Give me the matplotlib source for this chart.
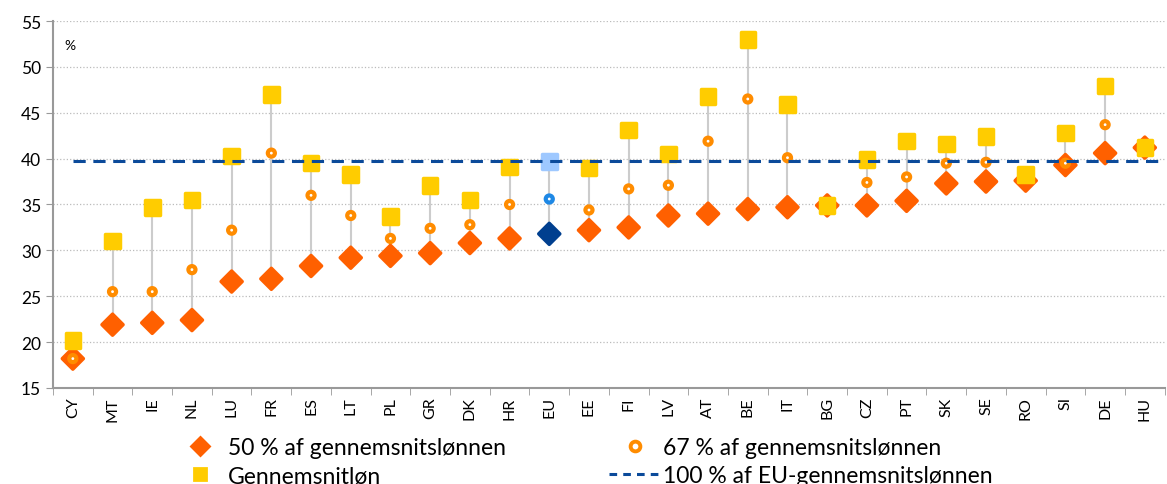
import numpy as np
import matplotlib.pyplot as plt
from matplotlib.lines import Line2D

countries = ['CY', 'MT', 'IE', 'NL', 'LU', 'FR', 'ES', 'LT', 'PL', 'GR', 'DK', 'HR', 'EU', 'EE',
             'FI', 'LV', 'AT', 'BE', 'IT', 'BG', 'CZ', 'PT', 'SK', 'SE', 'RO', 'SI', 'DE', 'HU']
pct50 = [18.2, 21.9, 22.1, 22.4, 26.6, 26.9, 28.3, 29.2, 29.4, 29.7, 30.8, 31.3, 31.8, 32.2,
         32.5, 33.8, 34.0, 34.5, 34.7, 34.9, 34.9, 35.4, 37.3, 37.5, 37.6, 39.3, 40.6, 41.2]
pct67 = [18.2, 25.5, 25.5, 27.9, 32.2, 40.6, 36.0, 33.8, 31.3, 32.4, 32.8, 35.0, 35.6, 34.4,
         36.7, 37.1, 41.9, 46.5, 40.1, 34.9, 37.4, 38.0, 39.5, 39.6, 37.9, 39.5, 43.7, 41.2]
average = [20.2, 31.0, 34.7, 35.5, 40.3, 47.0, 39.5, 38.3, 33.7, 37.1, 35.5, 39.1, 39.7, 39.0,
           43.1, 40.5, 46.8, 53.0, 45.9, 34.9, 39.9, 41.9, 41.6, 42.4, 38.3, 42.8, 47.9, 41.2]
eu_level = 39.7

plt.rcParams['font.family'] = ['Lato', 'DejaVu Sans']

fig = plt.figure(figsize=(11.67, 4.85), dpi=100)
ax = fig.add_axes([0.0454, 0.198, 0.9526, 0.7566])

x = np.arange(len(countries))
c50 = ['#003F8F' if c == 'EU' else '#FF6000' for c in countries]
c67 = ['#1E88E5' if c == 'EU' else '#FF8C00' for c in countries]
cav = ['#9EC8FF' if c == 'EU' else '#FFCC00' for c in countries]

lo = np.minimum(np.minimum(pct50, pct67), average)
hi = np.maximum(np.maximum(pct50, pct67), average)
ax.vlines(x, lo, hi, color='#cccccc', lw=1.5, zorder=2)

ax.scatter(x, pct50, marker='D', s=115, c=c50, edgecolors=c50, linewidths=2.5,
           joinstyle='round', zorder=3)
ax.scatter(x, pct67, marker='o', s=26, c='white', edgecolors=c67, linewidths=3, zorder=4)
ax.scatter(x, average, marker='s', s=110, c=cav, edgecolors=cav, linewidths=2.5,
           joinstyle='round', zorder=5)
ax.axhline(eu_level, color='#0B4A9A', lw=2.2, ls=(0, (4, 2.5)), zorder=6,
           xmin=0.5 / len(countries), xmax=1)

ax.set_xlim(-0.5, len(countries) - 0.5)
ax.set_ylim(15, 55)
ax.set_yticks(range(15, 56, 5))
ax.tick_params(axis='y', labelsize=12.5, length=5, color='#999999')
ax.set_xticks(x)
ax.set_xticklabels(countries, rotation=90, fontsize=11.5)
ax.set_xticks(np.arange(-0.5, len(countries), 1), minor=True)
ax.tick_params(axis='x', which='major', length=0, pad=6)
ax.tick_params(axis='x', which='minor', length=5, color='#999999')
ax.grid(axis='y', color='#bbbbbb', ls=':', lw=0.9)
ax.set_axisbelow(True)
for s in ['top', 'right']:
    ax.spines[s].set_visible(False)
for s in ['left', 'bottom']:
    ax.spines[s].set_color('#999999')
    ax.spines[s].set_linewidth(1.5)
ax.text(0.01, 0.935, '%', transform=ax.transAxes, fontsize=10, va='center')

handles = [
    Line2D([], [], marker='D', color='none', markerfacecolor='#FF6000', markeredgecolor='#FF6000',
           markeredgewidth=2, markersize=9),
    Line2D([], [], marker='s', color='none', markerfacecolor='#FFCC00', markeredgecolor='#FFCC00',
           markeredgewidth=2, markersize=9),
    Line2D([], [], marker='o', color='none', markerfacecolor='white', markeredgecolor='#FF8C00',
           markeredgewidth=2.8, markersize=7),
    Line2D([], [], color='#0B4A9A', lw=2.2, ls=(0, (2.5, 2))),
]
labels = ['50 % af gennemsnitslønnen', 'Gennemsnitløn', '67 % af gennemsnitslønnen',
          '100 % af EU-gennemsnitslønnen']
fig.legend(handles, labels, ncol=2, loc='center left', bbox_to_anchor=(0.15, 0.046), frameon=False,
           fontsize=16.5, handlelength=2.2, handletextpad=0.12, columnspacing=4.5, labelspacing=0.3,
           borderaxespad=0, borderpad=0)

fig.savefig('out.png', dpi=100)
